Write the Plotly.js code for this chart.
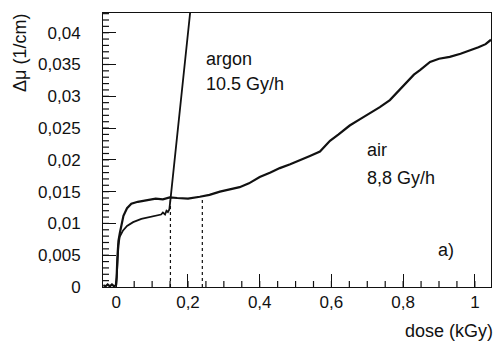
<!DOCTYPE html>
<html>
<head>
<meta charset="utf-8">
<script src="https://cdn.plot.ly/plotly-3.0.1.min.js"></script>
</head>
<body style="margin:0">
<div id="chart"></div>
<script>
// ---- data ----
const airDose = [-0.036, -0.030, -0.024, -0.018, -0.012, -0.006, -0.001, 0.001, 0.003, 0.006, 0.010, 0.014,
  0.020, 0.030, 0.042, 0.060, 0.080, 0.093, 0.110, 0.130, 0.149, 0.170, 0.200, 0.233,
  0.260, 0.289, 0.315, 0.344, 0.370, 0.400, 0.430, 0.456, 0.485, 0.512, 0.540, 0.568,
  0.596, 0.620, 0.651, 0.680, 0.707, 0.735, 0.763, 0.785, 0.810, 0.830, 0.847, 0.875,
  0.900, 0.930, 0.960, 0.986, 1.010, 1.030, 1.045];
const airMu = [0.0003, 0.0001, 0.0004, 0.0001, 0.0004, 0.0001, 0.0003, 0.0015, 0.0045, 0.0072, 0.0085, 0.0097,
  0.0112, 0.0124, 0.0131, 0.0134, 0.0136, 0.0137, 0.0139, 0.0138, 0.0141, 0.0140, 0.0139, 0.0142,
  0.0145, 0.0150, 0.0153, 0.0157, 0.0163, 0.0173, 0.0180, 0.0187, 0.0193, 0.0200, 0.0206, 0.0213,
  0.0230, 0.0240, 0.0254, 0.0264, 0.0273, 0.0283, 0.0294, 0.0307, 0.0323, 0.0334, 0.0341, 0.0354,
  0.0359, 0.0362, 0.0367, 0.0372, 0.0377, 0.0382, 0.0389];

const argonDose = [0.000, 0.003, 0.006, 0.0095, 0.014, 0.019, 0.030, 0.047, 0.070, 0.093, 0.110, 0.125, 0.130,
  0.136, 0.140, 0.144, 0.148, 0.151, 0.207];
const argonMu = [0.0003, 0.0040, 0.0065, 0.0079, 0.0085, 0.0089, 0.0096, 0.0102, 0.0107, 0.0110, 0.0112, 0.0114, 0.0117,
  0.0114, 0.0120, 0.0118, 0.0122, 0.0137, 0.0437];

// dotted markers: dose positions and the height where they meet the air curve
const markerDose = [0.151, 0.240];
const markerTop = [0.0141, 0.0143];

// tick labels
const xTickVals = [0, 0.2, 0.4, 0.6, 0.8, 1];
const xTickText = ["0", "0,2", "0,4", "0,6", "0,8", "1"];
const yTickVals = [0, 0.005, 0.01, 0.015, 0.02, 0.025, 0.03, 0.035, 0.04];
const yTickText = ["0", "0,005", "0,01", "0,015", "0,02", "0,025", "0,03", "0,035", "0,04"];
const xMinorStep = 0.05;
const yMinorStep = 0.001;

// labels
const labelArgon = ["argon", "10.5 Gy/h"];
const labelAir = ["air", "8,8 Gy/h"];
const panelLabel = "a)";
const xTitle = "dose (kGy)";
const yTitle = "Δμ (1/cm)";

const xRange = [-0.037, 1.045];
const yRange = [0, 0.0431];

const W = 494, H = 342;
const M = { l: 103, r: 3, t: 13, b: 55 };

// ---- traces ----
const traces = [
  { x: airDose, y: airMu, mode: "lines", line: { color: "#111", width: 2.2 } },
  { x: argonDose, y: argonMu, mode: "lines", line: { color: "#111", width: 1.8 } }
];
markerDose.forEach((d, i) => {
  traces.push({ x: [d, d], y: [0, markerTop[i]], mode: "lines",
    line: { color: "#111", width: 1.2, dash: "dot" } });
});

// ---- minor inward ticks, drawn on the axes' own scale ----
const pxPerX = (W - M.l - M.r) / (xRange[1] - xRange[0]);
const pxPerY = (H - M.t - M.b) / (yRange[1] - yRange[0]);
const tickX = [], tickY = [];
for (let k = Math.ceil(xRange[0] / xMinorStep); k * xMinorStep <= xRange[1]; k++) {
  const v = +(k * xMinorStep).toFixed(4);
  tickX.push(v, v, null);
  tickY.push(yRange[0], yRange[0] + 6 / pxPerY, null);
}
for (let k = 1; k * yMinorStep < yRange[1]; k++) {
  const v = +(k * yMinorStep).toFixed(5);
  tickX.push(xRange[0], xRange[0] + 6 / pxPerX, null);
  tickY.push(v, v, null);
}
traces.push({ x: tickX, y: tickY, mode: "lines", connectgaps: false,
  line: { color: "#111", width: 1.2 } });

const FONT = "Liberation Sans, Arial, Helvetica, sans-serif";

const layout = {
  width: W, height: H,
  margin: M,
  showlegend: false,
  font: { family: FONT, size: 17, color: "#111" },
  xaxis: {
    range: xRange,
    tickmode: "array", tickvals: xTickVals, ticktext: xTickText,
    ticks: "inside", ticklen: 13, tickcolor: "#111",
    showline: true, linecolor: "#111", mirror: true,
    showgrid: false, zeroline: false
  },
  yaxis: {
    range: yRange,
    tickmode: "array", tickvals: yTickVals, ticktext: yTickText,
    ticks: "inside", ticklen: 13, tickcolor: "#111",
    showline: true, linecolor: "#111", mirror: true,
    showgrid: false, zeroline: false,
    ticklabelstandoff: 18
  },
  annotations: [
    { text: labelArgon[0], x: 0.245, y: 0.0359, xref: "x", yref: "y", xanchor: "left", yanchor: "middle", showarrow: false, font: { family: FONT, size: 18, color: "#111" } },
    { text: labelArgon[1], x: 0.245, y: 0.0320, xref: "x", yref: "y", xanchor: "left", yanchor: "middle", showarrow: false, font: { family: FONT, size: 18, color: "#111" } },
    { text: labelAir[0], x: 0.694, y: 0.0215, xref: "x", yref: "y", xanchor: "left", yanchor: "middle", showarrow: false, font: { family: FONT, size: 18, color: "#111" } },
    { text: labelAir[1], x: 0.694, y: 0.0171, xref: "x", yref: "y", xanchor: "left", yanchor: "middle", showarrow: false, font: { family: FONT, size: 18, color: "#111" } },
    { text: panelLabel, x: 0.893, y: 0.0058, xref: "x", yref: "y", xanchor: "left", yanchor: "middle", showarrow: false, font: { family: FONT, size: 18, color: "#111" } },
    { text: xTitle, x: 1, y: 0, xref: "paper", yref: "paper", xanchor: "right", yanchor: "top", yshift: -32, xshift: 4, showarrow: false, font: { family: FONT, size: 18, color: "#111" } },
    { text: yTitle, x: 0, y: 1, xref: "paper", yref: "paper", xanchor: "center", yanchor: "top", textangle: -90, xshift: -83, yshift: 1, showarrow: false, font: { family: FONT, size: 18, color: "#111" } }
  ]
};

Plotly.newPlot("chart", traces, layout, { staticPlot: true });
</script>
</body>
</html>
